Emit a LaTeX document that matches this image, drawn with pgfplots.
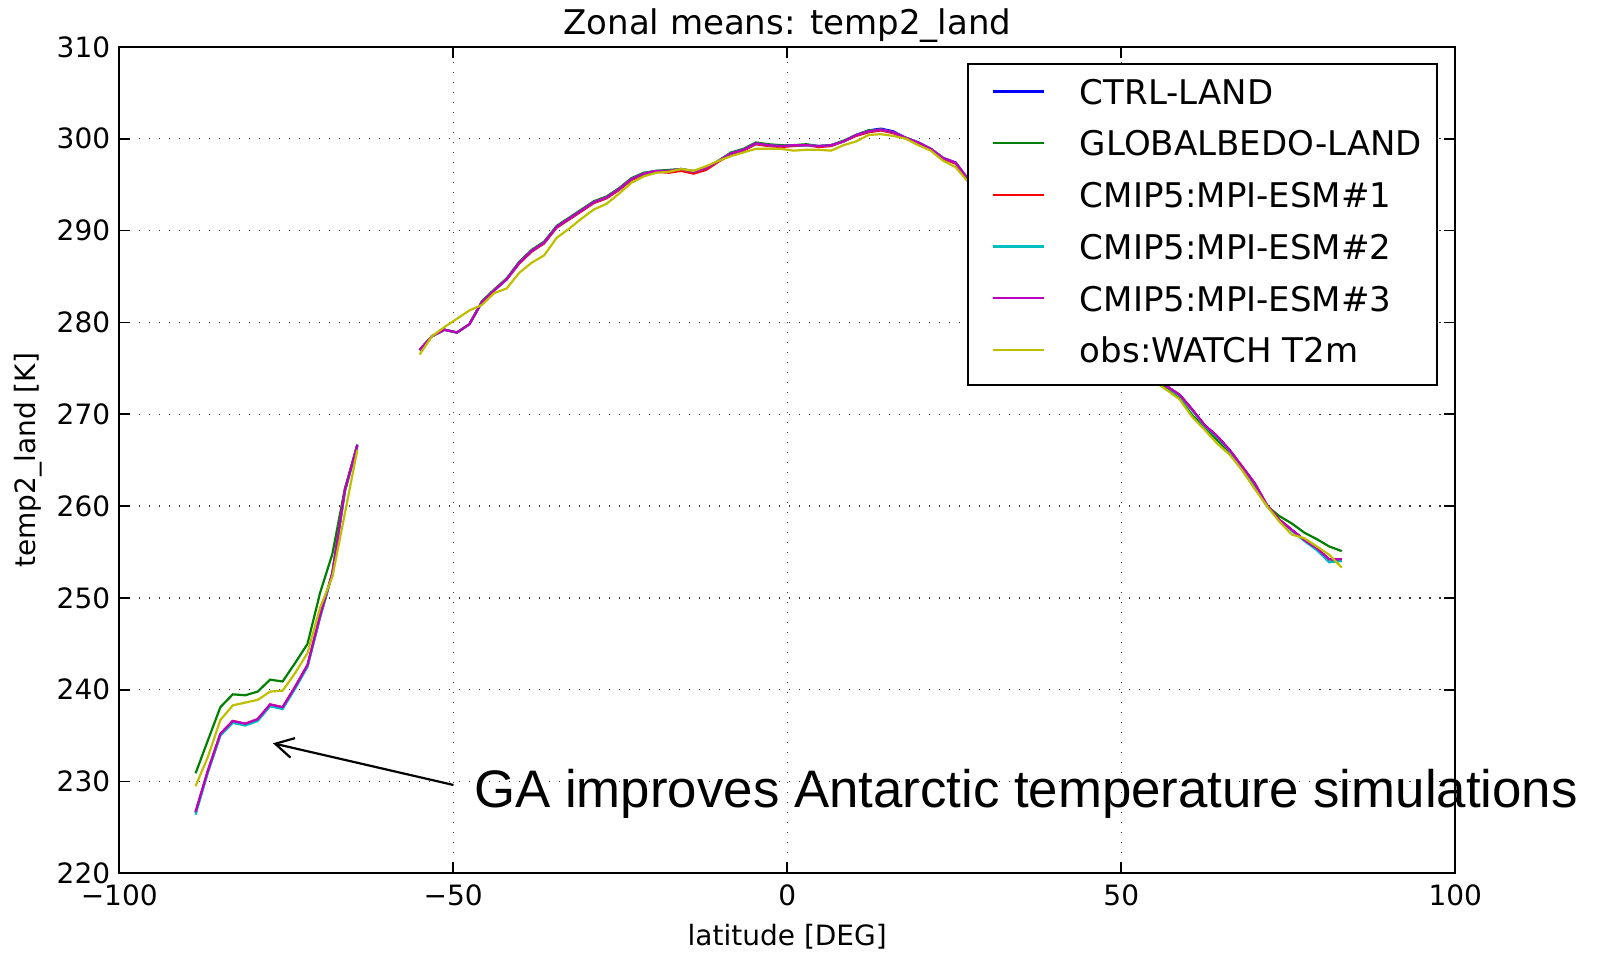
\documentclass[border=0pt]{standalone}
\usepackage{pgfplots}
\pgfplotsset{compat=1.18}
\usepackage{pgfplotstable}
\usetikzlibrary{arrows.meta}
\usepackage{fontspec}
\setmainfont{DejaVu Sans}
\newfontfamily\arialfont{Liberation Sans}

\definecolor{mplb}{rgb}{0,0,1}
\definecolor{mplg}{rgb}{0,0.5,0}
\definecolor{mplr}{rgb}{1,0,0}
\definecolor{mplc}{rgb}{0,0.75,0.75}
\definecolor{mplm}{rgb}{0.75,0,0.75}
\definecolor{mply}{rgb}{0.75,0.75,0}

\pgfplotstableread{
lat ctrl ga m1 m2 m3 obs
-88.57 226.6 230.9 226.7 226.4 226.7 229.5
-86.72 231.1 234.5 231.2 231.0 231.2 232.7
-84.86 235.1 238.1 235.2 235.0 235.2 236.7
-83.00 236.5 239.5 236.6 236.4 236.6 238.3
-81.13 236.2 239.4 236.3 236.1 236.3 238.6
-79.27 236.7 239.8 236.8 236.6 236.8 238.9
-77.41 238.3 241.1 238.4 238.2 238.4 239.8
-75.54 238.0 240.9 238.1 237.9 238.1 239.9
-73.68 240.2 242.9 240.3 240.1 240.3 241.8
-71.81 242.6 245.0 242.7 242.5 242.7 244.0
-69.95 247.9 250.5 248.0 247.8 248.0 248.9
-68.09 252.7 254.8 252.7 252.6 252.7 252.3
-66.22 261.7 261.9 261.7 261.6 261.7 259.2
-64.36 266.7 266.6 266.6 266.5 266.6 266.1
-60.00 nan nan nan nan nan nan
-55.04 277.0 277.0 277.0 277.0 277.0 276.5
-53.17 278.5 278.5 278.5 278.5 278.5 278.5
-51.31 279.2 279.2 279.2 279.2 279.2 279.5
-49.44 278.9 278.9 278.9 278.9 278.9 280.4
-47.58 279.8 279.8 279.8 279.8 279.8 281.3
-45.72 282.2 282.3 282.2 282.2 282.2 281.9
-43.85 283.5 283.6 283.5 283.5 283.5 283.2
-41.99 284.7 284.8 284.7 284.7 284.7 283.7
-40.12 286.5 286.6 286.4 286.5 286.5 285.4
-38.26 287.8 287.9 287.7 287.8 287.8 286.5
-36.39 288.7 288.8 288.6 288.7 288.7 287.3
-34.53 290.4 290.5 290.3 290.4 290.4 289.2
-32.66 291.3 291.4 291.2 291.3 291.3 290.2
-30.80 292.2 292.3 292.1 292.2 292.2 291.3
-28.94 293.1 293.2 293.0 293.1 293.1 292.3
-27.07 293.6 293.7 293.5 293.6 293.6 292.9
-25.21 294.5 294.6 294.4 294.5 294.5 294.0
-23.34 295.6 295.7 295.5 295.6 295.6 295.2
-21.48 296.2 296.3 296.1 296.2 296.2 295.9
-19.61 296.5 296.5 296.4 296.5 296.5 296.3
-17.75 296.5 296.6 296.3 296.5 296.5 296.4
-15.89 296.7 296.7 296.5 296.7 296.7 296.7
-14.02 296.4 296.5 296.2 296.4 296.4 296.5
-12.16 296.8 296.8 296.6 296.8 296.8 297.0
-10.29 297.6 297.6 297.5 297.6 297.6 297.6
-8.43 298.4 298.5 298.3 298.4 298.4 298.1
-6.56 298.8 298.9 298.7 298.8 298.8 298.5
-4.70 299.5 299.6 299.4 299.5 299.5 298.9
-2.84 299.3 299.4 299.2 299.3 299.3 298.9
-0.97 299.2 299.3 299.1 299.2 299.2 298.9
0.97 299.3 299.3 299.2 299.3 299.3 298.7
2.84 299.3 299.4 299.3 299.3 299.3 298.8
4.70 299.2 299.2 299.1 299.2 299.2 298.8
6.56 299.3 299.3 299.2 299.3 299.3 298.7
8.43 299.7 299.8 299.7 299.7 299.7 299.3
10.29 300.4 300.4 300.3 300.4 300.4 299.7
12.16 300.9 300.9 300.7 300.8 300.8 300.4
14.02 301.1 301.0 300.9 301.0 301.0 300.5
15.89 300.8 300.7 300.6 300.7 300.7 300.3
17.75 300.1 300.1 300.0 300.1 300.1 300.0
19.61 299.6 299.6 299.5 299.6 299.6 299.3
21.48 298.9 298.9 298.8 298.9 298.9 298.7
23.34 297.9 297.9 297.8 297.9 297.9 297.6
25.21 297.4 297.3 297.3 297.4 297.4 296.9
27.07 295.6 295.5 295.5 295.6 295.6 295.3
28.94 293.8 293.8 293.8 293.8 293.8 293.4
30.80 291.9 291.9 291.9 291.9 291.9 291.5
32.66 290.0 290.0 290.0 290.0 290.0 289.6
34.53 288.3 288.3 288.3 288.3 288.3 287.9
36.39 286.6 286.6 286.6 286.6 286.6 286.2
38.26 285.0 285.0 285.0 285.0 285.0 284.6
40.12 283.5 283.5 283.5 283.5 283.5 283.1
41.99 282.1 282.1 282.1 282.1 282.1 281.7
43.85 280.7 280.7 280.7 280.7 280.7 280.3
45.72 279.4 279.4 279.4 279.4 279.4 279.0
47.58 278.1 278.1 278.1 278.1 278.1 277.7
49.44 276.9 276.9 276.9 276.9 276.9 276.5
51.31 275.7 275.7 275.7 275.7 275.7 275.3
53.17 274.7 274.7 274.7 274.7 274.7 274.3
55.04 273.8 273.6 273.8 273.8 273.8 273.5
56.90 273.0 272.7 273.0 273.0 273.0 272.6
58.76 272.1 271.7 272.1 272.0 272.1 271.6
60.63 270.5 269.9 270.5 270.4 270.5 269.7
62.49 268.8 268.5 268.8 268.7 268.8 268.3
64.36 267.6 267.2 267.6 267.5 267.6 266.8
66.22 266.1 265.8 266.1 266.0 266.1 265.6
68.09 264.3 264.1 264.3 264.2 264.3 263.9
69.95 262.5 262.1 262.5 262.4 262.5 261.9
71.81 260.1 260.0 260.1 260.0 260.1 260.0
73.68 258.5 258.9 258.5 258.4 258.5 258.3
75.54 257.4 258.1 257.4 257.3 257.4 256.9
77.41 256.3 257.1 256.3 256.2 256.3 256.5
79.27 255.3 256.4 255.4 255.2 255.4 255.6
81.13 253.9 255.6 254.2 253.9 254.2 254.7
83.00 254.2 255.1 254.2 254.0 254.2 253.3
}\zonal

\begin{document}
\begin{tikzpicture}
\begin{axis}[
  name=ax,
  scale only axis,
  width=668pt, height=413.25pt,
  xmin=-100, xmax=100, ymin=220, ymax=310,
  xtick={-100,-50,0,50,100},
  xticklabels={−100,−50,0,50,100},
  ytick={220,230,...,310},
  /pgf/number format/assume math mode=true,
  tick label style={font=\fontsize{14}{16}\selectfont},
  xticklabel style={yshift=-2pt},
  yticklabel style={xshift=-1pt},
  every axis title shift=0pt,
  title={Zonal means: temp2\_land},
  title style={font=\fontsize{17}{20}\selectfont, at={(axis description cs:0.5,1)}, anchor=base, yshift=5.95pt},
  xlabel={latitude [DEG]},
  xlabel style={font=\fontsize{14}{16}\selectfont, at={(axis description cs:0.5,0)}, anchor=base, yshift=-35.8pt},
  ylabel={temp2\_land [K]},
  ylabel style={font=\fontsize{14}{16}\selectfont, at={(axis description cs:-0.0679,0.5)}, anchor=center},
  grid=major,
  grid style={black!80, line width=0.6pt, dash pattern=on 0.6pt off 4.4pt},
  axis line style={line width=1pt},
  tick style={black, line width=0.8pt},
  major tick length=5.5pt,
  tick align=inside,
  tick pos=both,
  unbounded coords=jump,
  clip=false,
  legend cell align=left,
  legend image code/.code={\path (0pt,-2pt); \draw[#1] (4.5pt,1.9pt) -- (30pt,1.9pt);},
  legend style={at={(0.987,0.9805)}, anchor=north east, draw=black, line width=1pt, fill=white,
    font=\fontsize{17}{20}\selectfont, inner xsep=7.5pt, inner ysep=7.6pt,
    row sep=9.85pt, column sep=17.5pt,
    nodes={inner sep=0pt, text height=12.5pt, text depth=3.5pt}},
  every axis plot/.append style={line width=1.1pt, no markers},
]
\addplot[mplb] table[x=lat, y=ctrl] {\zonal};
\addlegendentry{CTRL-LAND}
\addplot[mplg] table[x=lat, y=ga] {\zonal};
\addlegendentry{GLOBALBEDO-LAND}
\addplot[mplr] table[x=lat, y=m1] {\zonal};
\addlegendentry{CMIP5:MPI-ESM\#1}
\addplot[mplc] table[x=lat, y=m2] {\zonal};
\addlegendentry{CMIP5:MPI-ESM\#2}
\addplot[mplm] table[x=lat, y=m3] {\zonal};
\addlegendentry{CMIP5:MPI-ESM\#3}
\addplot[mply] table[x=lat, y=obs] {\zonal};
\addlegendentry{obs:WATCH T2m}
\draw[line width=1.1pt, -{Straight Barb[length=9pt,width=10pt]}] (axis cs:-49.96,229.63) -- (axis cs:-76.98,234.17);
\node[anchor=base west, inner sep=0pt, font=\arialfont\fontsize{26.4}{30}\selectfont] at (axis cs:-46.9,227.2) {GA improves Antarctic temperature simulations};
\end{axis}
\pgfresetboundingbox
\path[use as bounding box] ([xshift=-59.6pt,yshift=-40.8pt]ax.south west) rectangle ([xshift=71.35pt,yshift=23.45pt]ax.north east);
\end{tikzpicture}
\end{document}
